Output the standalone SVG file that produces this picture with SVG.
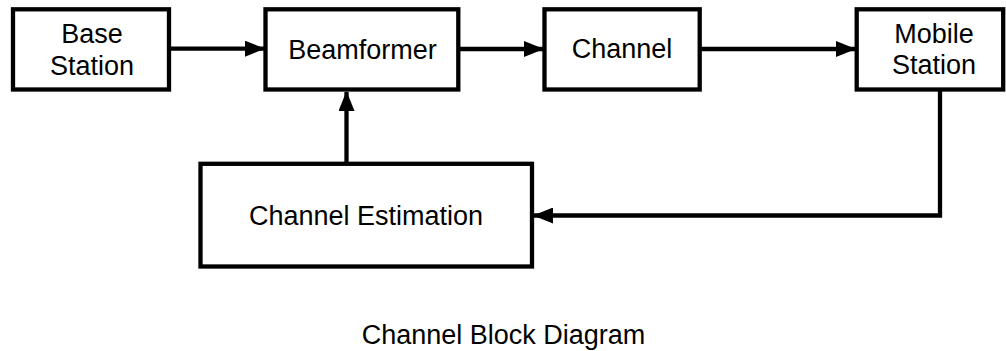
<svg xmlns="http://www.w3.org/2000/svg" width="1006" height="351" viewBox="0 0 1006 351">
  <style>
    .box { fill: #ffffff; stroke: #000000; stroke-width: 4.3; }
    .lbl { font-family: "Liberation Sans", Arial, sans-serif; font-size: 27px; fill: #000000; text-anchor: middle; }
    .conn { fill: none; stroke: #000000; stroke-width: 4.3; }
  </style>
  <defs>
    <marker id="arrow" markerUnits="userSpaceOnUse" markerWidth="20" markerHeight="16" refX="19" refY="8" orient="auto">
      <path d="M0,0 L20,8 L0,16 Z" fill="#000000"/>
    </marker>
  </defs>
  <rect width="1006" height="351" fill="#ffffff"/>

  <g id="connectors">
    <line class="conn" x1="169" y1="48.7" x2="264" y2="48.7" marker-end="url(#arrow)"/>
    <line class="conn" x1="458" y1="49" x2="543" y2="49" marker-end="url(#arrow)"/>
    <line class="conn" x1="700" y1="49" x2="855" y2="49" marker-end="url(#arrow)"/>
    <line class="conn" x1="346.5" y1="163" x2="346.5" y2="92" marker-end="url(#arrow)"/>
    <polyline class="conn" points="940,90 940,215.5 534,215.5" marker-end="url(#arrow)"/>
  </g>

  <g id="base-station">
    <rect class="box" x="13" y="9.3" width="156" height="80.2"/>
    <text class="lbl" x="92" y="43">Base</text>
    <text class="lbl" x="92" y="75">Station</text>
  </g>
  <g id="beamformer">
    <rect class="box" x="265.5" y="9.3" width="192.8" height="80.2"/>
    <text class="lbl" x="362.5" y="59">Beamformer</text>
  </g>
  <g id="channel">
    <rect class="box" x="544.5" y="9.3" width="155.2" height="80.2"/>
    <text class="lbl" x="622" y="58">Channel</text>
  </g>
  <g id="mobile-station">
    <rect class="box" x="856.7" y="9.3" width="146.5" height="80.2"/>
    <text class="lbl" x="934" y="43">Mobile</text>
    <text class="lbl" x="934" y="74">Station</text>
  </g>
  <g id="channel-estimation">
    <rect class="box" x="200.5" y="163.8" width="331.5" height="102.7"/>
    <text class="lbl" x="366" y="225">Channel Estimation</text>
  </g>

  <text id="title" class="lbl" x="503.5" y="344">Channel Block Diagram</text>
</svg>
